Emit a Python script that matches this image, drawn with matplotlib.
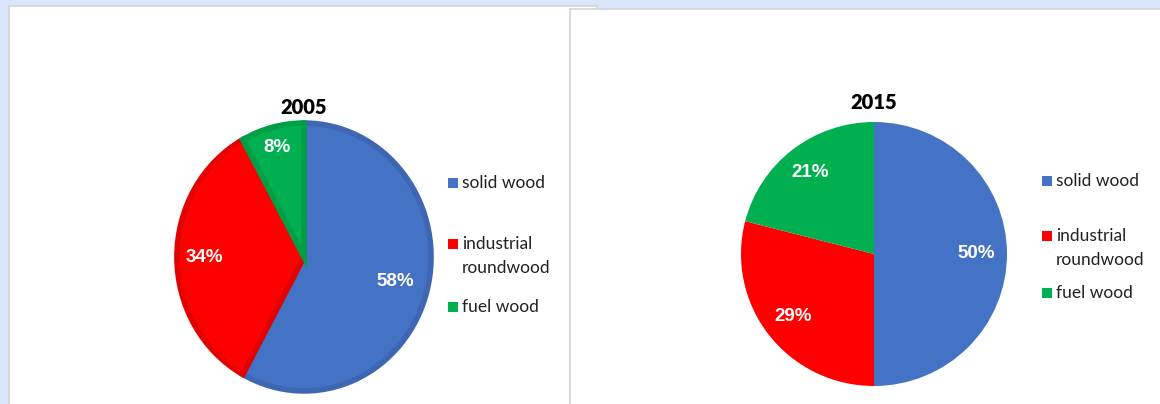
import numpy as np
import matplotlib.pyplot as plt
from matplotlib.patches import Rectangle

W, H = 1160, 404

labels = ["solid wood", "industrial\nroundwood", "fuel wood"]
colors = ["#4472C4", "#FF0000", "#00B050"]
edge_2005 = ["#3E66B3", "#E30000", "#009E46"]
years = ["2005", "2015"]
share_2005 = [58, 34, 8]
share_2015 = [50, 29, 21]


def px(x, y):
    return x / W, 1 - y / H


def add_panel(fig, x0, y0, x1, y1):
    l, t = px(x0, y0)
    r, b = px(x1, y1)
    fig.patches.append(Rectangle((l, b), r - l, t - b, transform=fig.transFigure,
                                 facecolor="white", edgecolor="#d4d4d4", lw=1.2,
                                 zorder=-10))


def draw_pie(fig, box, values, title, edges, lw, dists, tpad):
    x0, y0, x1, y1 = box
    l, t = px(x0, y0)
    r, b = px(x1, y1)
    ax = fig.add_axes([l, b, r - l, t - b])
    ax.patch.set_visible(False)
    wedges, _ = ax.pie(values, colors=colors, startangle=90, counterclock=False,
                       radius=1.0 if lw == 0 else 0.985)
    for w, ec in zip(wedges, edges):
        w.set_edgecolor(ec)
        w.set_linewidth(lw)
    ax.set_aspect("auto")
    ax.set_xlim(-1, 1)
    ax.set_ylim(-1, 1)
    for w, v, d in zip(wedges, values, dists):
        ang = np.radians((w.theta1 + w.theta2) / 2)
        ax.text(d * np.cos(ang), d * np.sin(ang), f"{v}%", color="white",
                ha="center", va="center", fontsize=13.5, fontweight="bold",
                family="Liberation Sans")
    ax.text(0, tpad, title, ha="center", va="bottom", fontsize=14.5,
            fontweight="heavy", family="Lato")
    return ax


def draw_legend(fig, x, ys):
    for lab, c, y in zip(labels, colors, ys):
        l, t = px(x, y - 5)
        r, b = px(x + 10, y + 5)
        fig.patches.append(Rectangle((l, b), r - l, t - b, transform=fig.transFigure,
                                     facecolor=c, edgecolor="none"))
        tx, ty = px(x + 14, y - 8)
        fig.text(tx, ty, lab, ha="left", va="top", fontsize=12.5, family="Lato",
                 color="#222222", linespacing=1.6)


def main():
    fig = plt.figure(figsize=(W / 100, H / 100), dpi=100, facecolor="#DAE6FB")
    add_panel(fig, 9, 6, 597, 406)
    add_panel(fig, 570, 9, 1162, 406)

    draw_pie(fig, (175, 121, 433, 393), share_2005, years[0], edge_2005, 4,
             [0.73, 0.77, 0.83], 1.03)
    draw_pie(fig, (741, 122, 1007, 386), share_2015, years[1], ["none"] * 3, 0,
             [0.77, 0.77, 0.78], 1.075)

    draw_legend(fig, 448, [183, 244, 307])
    draw_legend(fig, 1042, [181, 236, 293])

    fig.savefig("out.png", dpi=100, facecolor=fig.get_facecolor())


if __name__ == "__main__":
    main()
